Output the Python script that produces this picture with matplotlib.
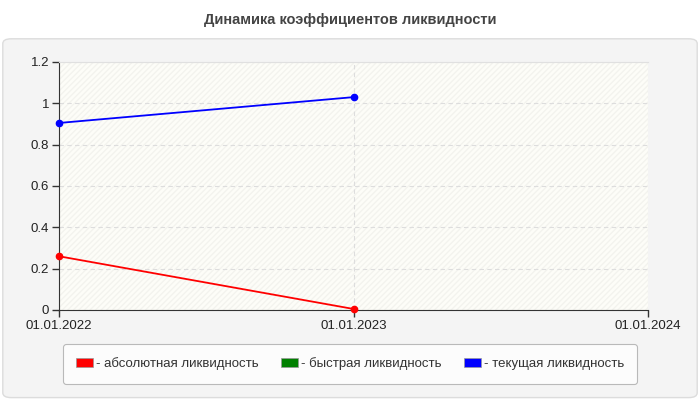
import datetime as dt

import matplotlib
matplotlib.use('Agg')
import matplotlib.pyplot as plt
import matplotlib.dates as mdates
from matplotlib.patches import FancyBboxPatch, Rectangle, Patch

plt.rcParams['font.family'] = ['Liberation Sans', 'DejaVu Sans']

# data
dates = [dt.date(2022, 1, 1), dt.date(2023, 1, 1)]
absolute_liq = [0.26, 0.005]
quick_liq = []  # no visible points
current_liq = [0.905, 1.03]
x_ticks = [dt.date(2022, 1, 1), dt.date(2023, 1, 1), dt.date(2024, 1, 1)]
y_ticks = [0, 0.2, 0.4, 0.6, 0.8, 1, 1.2]
series_names = ['- абсолютная ликвидность', '- быстрая ликвидность', '- текущая ликвидность']
series_colors = ['#ff0000', '#008000', '#0000ff']

fig = plt.figure(figsize=(7, 4), dpi=100)
fig.patch.set_facecolor('white')

# gray rounded panel behind the chart
bg = fig.add_axes([0, 0, 1, 1], zorder=-1)
bg.axis('off')
bg.add_patch(FancyBboxPatch((0.004, 0.006), 0.992, 0.897, boxstyle='round,pad=0,rounding_size=0.012',
                            transform=bg.transAxes, facecolor='#f4f4f4', edgecolor='#dcdcdc',
                            linewidth=1))

fig.text(0.5, 0.949, 'Динамика коэффициентов ликвидности', ha='center', va='center',
         fontsize=10.5, fontweight='bold', color='#444444')

ax = fig.add_axes([0.0843, 0.225, 0.8414, 0.62], zorder=1)
ax.set_facecolor('#fdfdf8')
ax.add_patch(Rectangle((0, 0), 1, 1, transform=ax.transAxes, facecolor='none',
                       edgecolor='#f3f3ee', hatch='//////', linewidth=0, zorder=0))

ax.plot(dates, absolute_liq, color=series_colors[0], linewidth=1.3, marker='o', markersize=4.5, zorder=3,
        clip_on=False)
if quick_liq:
    ax.plot(dates[:len(quick_liq)], quick_liq, color=series_colors[1], linewidth=1.3, marker='o', markersize=4.5)
ax.plot(dates, current_liq, color=series_colors[2], linewidth=1.3, marker='o', markersize=4.5, zorder=3,
        clip_on=False)

ax.set_xlim(x_ticks[0], x_ticks[-1])
ax.set_ylim(0, 1.2)
ax.set_xticks(x_ticks)
ax.xaxis.set_major_formatter(mdates.DateFormatter('%d.%m.%Y'))
ax.set_yticks(y_ticks)
ax.set_yticklabels(['0', '0.2', '0.4', '0.6', '0.8', '1', '1.2'])

ax.grid(True, linestyle=(0, (4, 3)), color='#dddddd', linewidth=0.8)
ax.set_axisbelow(True)
ax.spines['right'].set_visible(False)
ax.spines['top'].set_color('#e0e0e0')
ax.spines['left'].set_color('#333333')
ax.spines['bottom'].set_color('#333333')
ax.tick_params(axis='both', labelsize=9.5, colors='#333333', length=5, width=1, pad=2)
for lbl in ax.get_xticklabels() + ax.get_yticklabels():
    lbl.set_color('#222222')

handles = [Patch(facecolor=c, edgecolor='#999999', linewidth=0.5) for c in series_colors]
leg = fig.legend(handles, series_names, loc='center', bbox_to_anchor=(0.5, 0.09), ncol=3,
                 fontsize=9.5, frameon=True, fancybox=True, edgecolor='#aaaaaa', facecolor='white',
                 handlelength=1.3, handleheight=0.7, handletextpad=0.2, columnspacing=1.7,
                 borderpad=1.0, borderaxespad=0)
leg.get_frame().set_linewidth(0.8)
for t in leg.get_texts():
    t.set_color('#333333')

fig.savefig('out.png', dpi=100)
